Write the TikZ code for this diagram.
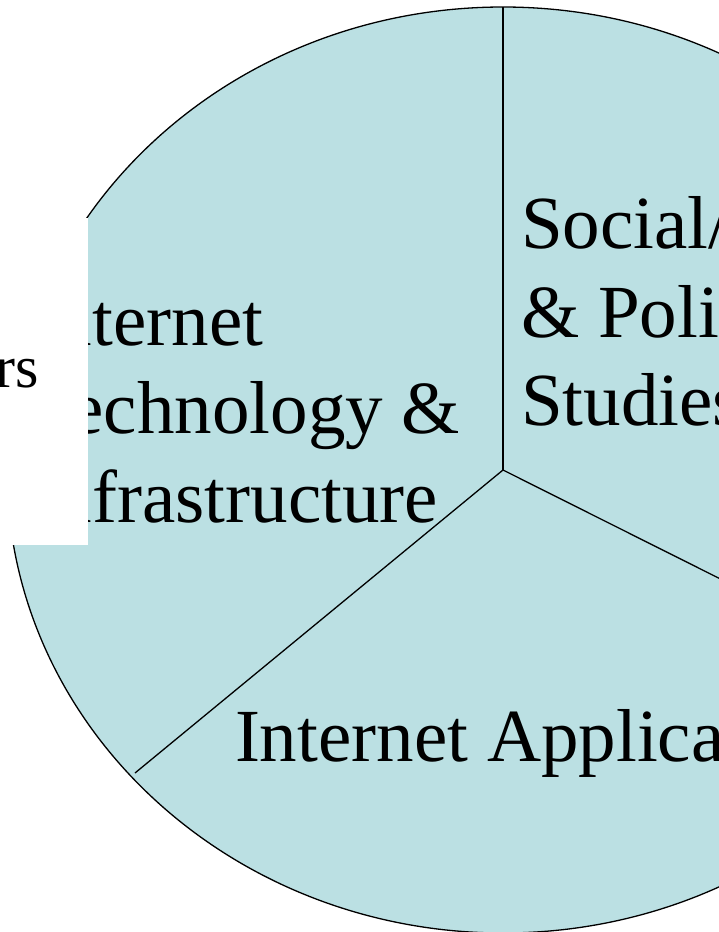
\documentclass[tikz,border=0pt]{standalone}
\usepackage{fontspec}
\setmainfont{Liberation Serif}
\usetikzlibrary{calc}
\definecolor{piefill}{HTML}{BBE0E3}
\tikzset{
  lbl/.style={font=\fontsize{75}{90}\selectfont, anchor=base west, inner sep=0pt, outer sep=0pt},
  smalllbl/.style={font=\fontsize{60}{72}\selectfont, anchor=base east, inner sep=0pt, outer sep=0pt},
  edge/.style={draw=black, line width=1.3pt},
}
\begin{document}
\begin{tikzpicture}[x=1pt,y=-1pt]
\useasboundingbox (0,0) rectangle (719,932);
\clip (0,0) rectangle (719,932);
% pie
\coordinate (c) at (503,470);
\fill[piefill] (c) ellipse [x radius=496pt, y radius=463pt];
\draw[edge] (c) ellipse [x radius=496pt, y radius=463pt];
\coordinate (top) at (503,7);
\coordinate (ll) at ($(c)+(-368,303)$);
\coordinate (lr) at ($(c)+(437,219)$);
\draw[edge] (c) -- (top);
\draw[edge] (c) -- (ll);
\draw[edge] (c) -- (lr);
% left sector label
\node[lbl] (l1) at (30,345) {Internet};
\node[lbl] (l2) at (30,433) {Technology \&};
\node[lbl] (l3) at (30,522) {Infrastructure};
% right sector label
\node[lbl] (r1) at (521,248) {Social/};
\node[lbl] (r2) at (521,337) {\& Political};
\node[lbl] (r3) at (521,425) {Studies};
% bottom sector label
\node[lbl] (b1) at (235,761) {Internet Applications};
% white cover
\fill[white] (0,218) rectangle (88,545);
\node[smalllbl] (s1) at (39,387) {rs};
\end{tikzpicture}
\end{document}
